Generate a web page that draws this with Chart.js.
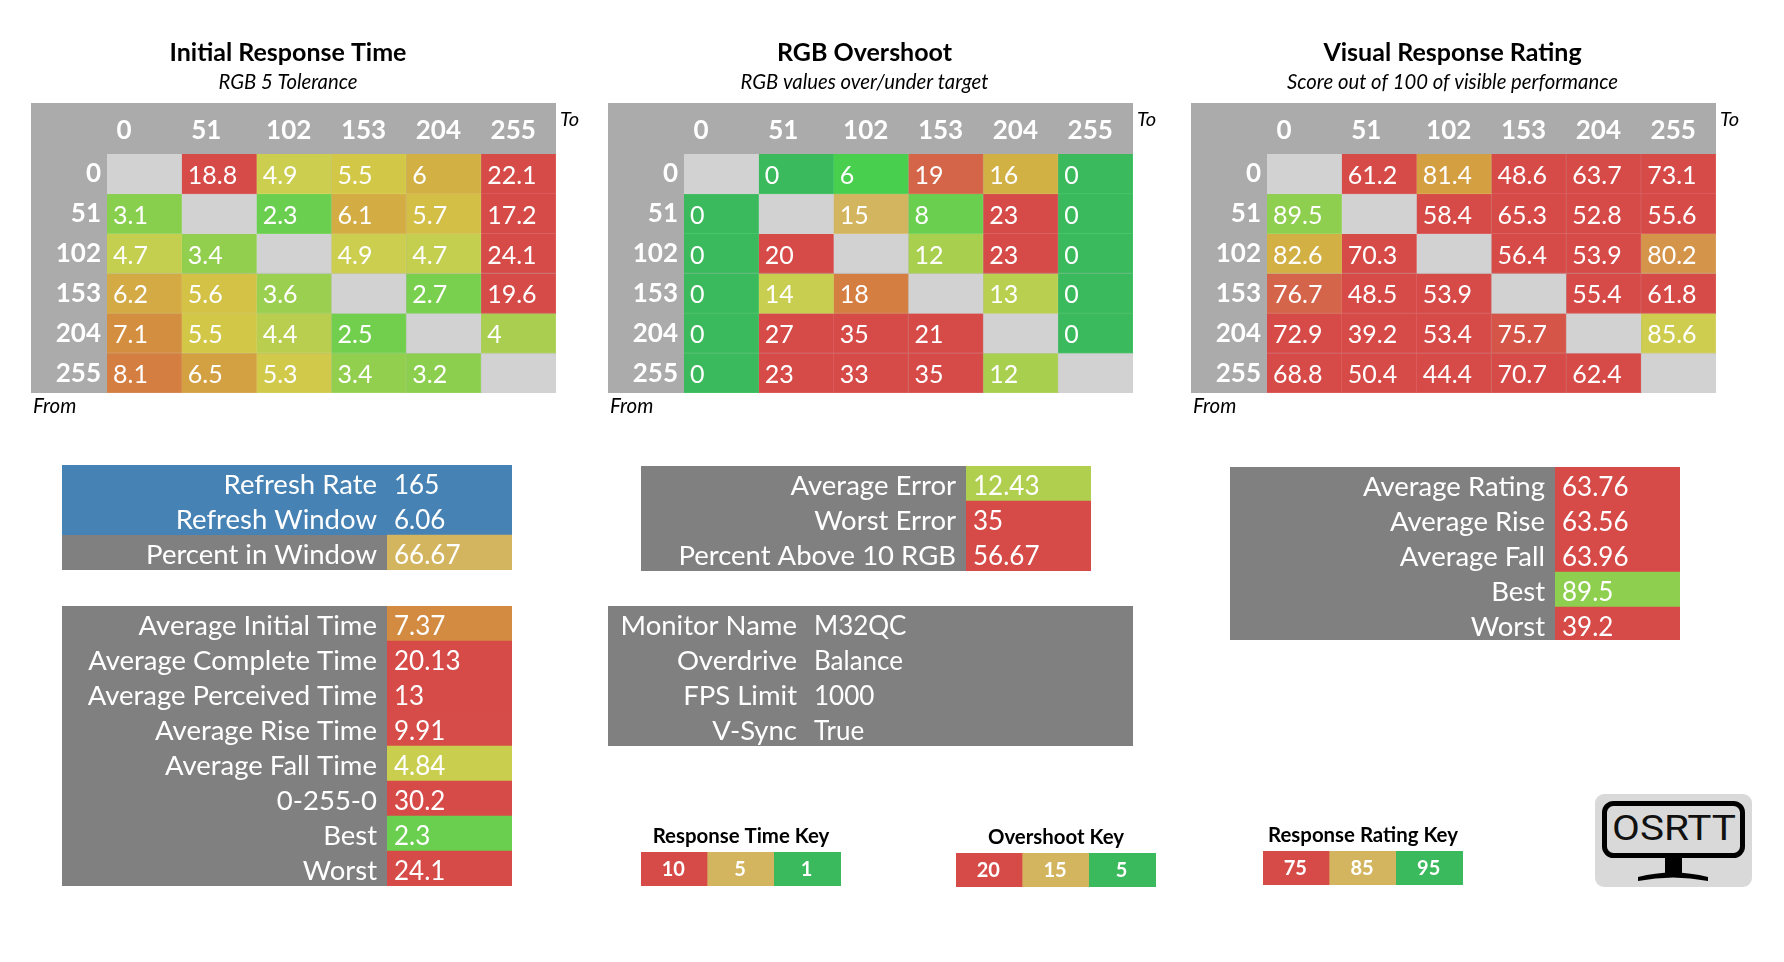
<!DOCTYPE html>
<html>
<head>
<meta charset="utf-8">
<title>OSRTT M32QC</title>
<script src="https://cdn.jsdelivr.net/npm/chart.js@4"></script>
<style>
  html, body { margin: 0; padding: 0; background: #fff; overflow: hidden; }
  canvas, svg { position: absolute; display: block; }
</style>
</head>
<body>
<svg style="left:1595px;top:794px" width="157" height="93" viewBox="0 0 157 93">
  <rect width="157" height="93" rx="9" fill="#d9d9d9"/>
  <rect x="9.5" y="9.5" width="138" height="52" rx="9" fill="none" stroke="#000" stroke-width="5"/>
  <text x="17" y="46" font-family="Roboto" font-size="35" textLength="124" lengthAdjust="spacingAndGlyphs" fill="#111">OSRTT</text>
  <rect x="70" y="63" width="17" height="20" fill="#000"/>
  <path d="M43 83 Q78 74 113 83 L113 87 Q78 80 43 87 Z" fill="#000"/>
</svg>
<script>
const grayLevels = ['0', '51', '102', '153', '204', '255'];

const responseTimes = [
  [null, 18.8, 4.9, 5.5, 6, 22.1],
  [3.1, null, 2.3, 6.1, 5.7, 17.2],
  [4.7, 3.4, null, 4.9, 4.7, 24.1],
  [6.2, 5.6, 3.6, null, 2.7, 19.6],
  [7.1, 5.5, 4.4, 2.5, null, 4],
  [8.1, 6.5, 5.3, 3.4, 3.2, null]
];
const overshootValues = [
  [null, 0, 6, 19, 16, 0],
  [0, null, 15, 8, 23, 0],
  [0, 20, null, 12, 23, 0],
  [0, 14, 18, null, 13, 0],
  [0, 27, 35, 21, null, 0],
  [0, 23, 33, 35, 12, null]
];
const ratingValues = [
  [null, 61.2, 81.4, 48.6, 63.7, 73.1],
  [89.5, null, 58.4, 65.3, 52.8, 55.6],
  [82.6, 70.3, null, 56.4, 53.9, 80.2],
  [76.7, 48.5, 53.9, null, 55.4, 61.8],
  [72.9, 39.2, 53.4, 75.7, null, 85.6],
  [68.8, 50.4, 44.4, 70.7, 62.4, null]
];

const refreshLabels = ['Refresh Rate', 'Refresh Window', 'Percent in Window'];
const refreshValues = [165, 6.06, 66.67];
const timeLabels = ['Average Initial Time', 'Average Complete Time', 'Average Perceived Time', 'Average Rise Time', 'Average Fall Time', '0-255-0', 'Best', 'Worst'];
const timeValues = [7.37, 20.13, 13, 9.91, 4.84, 30.2, 2.3, 24.1];
const errorLabels = ['Average Error', 'Worst Error', 'Percent Above 10 RGB'];
const errorValues = [12.43, 35, 56.67];
const monitorLabels = ['Monitor Name', 'Overdrive', 'FPS Limit', 'V-Sync'];
const monitorValues = ['M32QC', 'Balance', '1000', 'True'];
const ratingLabels = ['Average Rating', 'Average Rise', 'Average Fall', 'Best', 'Worst'];
const ratingStats = [63.76, 63.56, 63.96, 89.5, 39.2];

const timeKey = [10, 5, 1];
const overshootKey = [20, 15, 5];
const ratingKey = [75, 85, 95];

// colours
const RED = '#d64a48', TAN = '#d3b55f', GREEN = '#3bba5d';
const HEADER_GRAY = '#ababab', STAT_GRAY = '#808080', EMPTY_CELL = '#d2d2d2', BLUE = '#4682b4';

const timeStops = [[1, GREEN], [2.3, '#6acf4e'], [4.9, '#ccce4f'], [5.5, '#d3c747'], [6, '#d3b044'], [7.1, '#d38e40'], [8.1, '#d47e42'], [10, RED]];
const overshootStops = [[0, GREEN], [6, '#48cf4e'], [8, '#6acf4e'], [12, '#a9cf4f'], [14, '#c8ce4f'], [15, TAN], [16, '#d1b144'], [18, '#d47e42'], [19, '#d56548'], [20, RED]];
const ratingStops = [[75, RED], [76.7, '#d4644a'], [80.2, '#d4944a'], [81.4, '#d49f40'], [82.6, '#d2b044'], [85.6, '#cfcd50'], [89.5, '#8fcf4f'], [95, GREEN]];
const windowStops = [[50, RED], [66.67, TAN], [90, GREEN]];

function hexToRgb(hex) {
  return [1, 3, 5].map(i => parseInt(hex.slice(i, i + 2), 16));
}

function colorFor(value, stops) {
  if (value <= stops[0][0]) return stops[0][1];
  for (let i = 1; i < stops.length; i++) {
    if (value <= stops[i][0]) {
      const t = (value - stops[i - 1][0]) / (stops[i][0] - stops[i - 1][0]);
      const a = hexToRgb(stops[i - 1][1]), b = hexToRgb(stops[i][1]);
      return 'rgb(' + a.map((c, k) => Math.round(c + (b[k] - c) * t)).join(',') + ')';
    }
  }
  return stops[stops.length - 1][1];
}

function cellColor(value, stops) {
  return value === null ? EMPTY_CELL : colorFor(value, stops);
}

// faint lighter line between the cells, no line on the empty ones
function cellEdge(value, stops) {
  if (value === null) return EMPTY_CELL;
  return Chart.helpers.color(colorFor(value, stops)).lighten(0.1).rgbString();
}

Chart.defaults.font.family = 'Lato';
Chart.defaults.animation = false;
Chart.defaults.responsive = false;
Chart.defaults.layout.autoPadding = false;
Chart.defaults.plugins.legend.display = false;
Chart.defaults.plugins.tooltip.enabled = false;

// gray panels behind the bars and the words around the tables
const panelPlugin = {
  id: 'panel',
  beforeDraw(chart, args, opts) {
    const c = chart.ctx, area = chart.chartArea;
    if (opts.header) {
      c.fillStyle = opts.header;
      c.fillRect(chart.scales.y.left, chart.scales.x.top, area.right - chart.scales.y.left, area.bottom - chart.scales.x.top);
    }
    if (opts.bands) {
      const h = area.height / opts.bands.length;
      opts.bands.forEach((color, i) => {
        c.fillStyle = color;
        c.fillRect(0, area.top + i * h, chart.width, h);
      });
    }
  },
  afterDraw(chart, args, opts) {
    const c = chart.ctx;
    (opts.words || []).forEach(w => {
      c.font = w.font;
      c.fillStyle = '#000';
      c.textAlign = w.align || 'left';
      c.textBaseline = 'alphabetic';
      c.fillText(w.text, w.x(chart.chartArea), w.y(chart.chartArea));
    });
  }
};

// writes the value of each cell on top of its bar
const cellTextPlugin = {
  id: 'cellText',
  afterDatasetsDraw(chart, args, opts) {
    const c = chart.ctx;
    chart.data.datasets.forEach((ds, d) => {
      chart.getDatasetMeta(d).data.forEach((bar, i) => {
        const text = ds.texts[i];
        if (text === null || text === undefined) return;
        const horizontal = chart.options.indexAxis === 'y';
        c.font = opts.font;
        c.fillStyle = '#fff';
        c.textBaseline = 'middle';
        c.textAlign = opts.center ? 'center' : 'left';
        let x = horizontal ? bar.base + opts.indent : bar.x - bar.width / 2 + opts.indent;
        if (opts.center) x = bar.x + opts.indent;
        const y = horizontal ? bar.y : (bar.y + bar.base) / 2;
        c.fillText(String(text), x, y + (opts.shift || 0));
      });
    });
  }
};

Chart.register(panelPlugin, cellTextPlugin);

function place(left, top, width, height) {
  const canvas = document.createElement('canvas');
  canvas.width = width;
  canvas.height = height;
  canvas.style.left = left + 'px';
  canvas.style.top = top + 'px';
  document.body.appendChild(canvas);
  return canvas;
}

function heatmap(left, rows, stops, title, subtitle, titleCenter) {
  const top = 30;
  new Chart(place(left, top, 560, 392), {
    type: 'bar',
    data: {
      labels: grayLevels,
      datasets: rows.map(row => ({
        data: row.map(() => 1),
        texts: row,
        backgroundColor: row.map(v => cellColor(v, stops)),
        borderColor: row.map(v => cellEdge(v, stops)),
        borderWidth: { bottom: 1, right: 1 },
        borderSkipped: false,
        barPercentage: 1,
        categoryPercentage: 1
      }))
    },
    options: {
      layout: { padding: { top: 73, right: 35, bottom: 29 } },
      scales: {
        x: {
          position: 'top',
          stacked: true,
          grid: { display: false, drawTicks: false },
          border: { display: false },
          afterFit: scale => { scale.height = 51; },
          ticks: { color: '#fff', font: { size: 26, weight: 'bold' }, align: 'start', labelOffset: -28, padding: 8, maxRotation: 0, autoSkip: false }
        },
        y: {
          reverse: true,
          stacked: true,
          min: 0,
          max: 6,
          grid: { display: false, drawTicks: false },
          border: { display: false },
          afterFit: scale => { scale.width = 76; scale.paddingTop = 0; scale.paddingBottom = 0; },
          ticks: { stepSize: 1, color: '#fff', font: { size: 26, weight: 'bold' }, labelOffset: 20, padding: 6, autoSkip: false,
            callback: value => grayLevels[value] ?? '' }
        }
      },
      plugins: {
        panel: {
          header: HEADER_GRAY,
          words: [
            { text: title, font: 'bold 25px Lato', align: 'center', x: () => titleCenter - left, y: () => 61 - top },
            { text: subtitle, font: 'italic 20.3px Lato', align: 'center', x: () => titleCenter - left, y: () => 89 - top },
            { text: 'To', font: 'italic 20px Lato', x: a => a.right + 4, y: () => 126 - top },
            { text: 'From', font: 'italic 20.5px Lato', x: () => 2, y: a => a.bottom + 20 }
          ]
        },
        cellText: { font: '25px Lato', indent: 6, shift: 2 }
      }
    }
  });
}

function statTable(left, top, width, labelWidth, labels, values, colors, bands) {
  const canvas = place(left, top, width, labels.length * 35);
  new Chart(canvas, {
    type: 'bar',
    data: {
      labels: labels,
      datasets: [{
        data: labels.map(() => 1),
        texts: values,
        backgroundColor: colors,
        barPercentage: 1,
        categoryPercentage: 1
      }]
    },
    options: {
      indexAxis: 'y',
      scales: {
        x: { display: false, min: 0, max: 1 },
        y: {
          grid: { display: false, drawTicks: false },
          border: { display: false },
          afterFit: scale => { scale.width = labelWidth; scale.paddingTop = 0; scale.paddingBottom = 0; },
          ticks: { color: '#fff', font: { size: 27.5 }, padding: 10, labelOffset: 3, autoSkip: false }
        }
      },
      plugins: {
        panel: { bands: bands || labels.map(() => STAT_GRAY) },
        cellText: { font: '26px Lato', indent: 7, shift: 3 }
      }
    }
  });
  return canvas;
}

function keyTable(left, top, title, values) {
  new Chart(place(left, top - 30, 200, 64), {
    type: 'bar',
    data: {
      labels: values.map(String),
      datasets: [{
        data: values.map(() => 1),
        texts: values,
        backgroundColor: [RED, TAN, GREEN],
        barPercentage: 1,
        categoryPercentage: 1
      }]
    },
    options: {
      layout: { padding: { top: 30 } },
      scales: {
        x: { display: false },
        y: { display: false, min: 0, max: 1 }
      },
      plugins: {
        panel: {
          words: [{ text: title, font: 'bold 20.4px Lato', align: 'center', x: a => (a.left + a.right) / 2, y: a => a.top - 9 }]
        },
        cellText: { font: 'bold 20px Lato', center: true, indent: -1, shift: 1 }
      }
    }
  });
}

heatmap(31, responseTimes, timeStops, 'Initial Response Time', 'RGB 5 Tolerance', 288);
heatmap(608, overshootValues, overshootStops, 'RGB Overshoot', 'RGB values over/under target', 864.5);
heatmap(1191, ratingValues, ratingStops, 'Visual Response Rating', 'Score out of 100 of visible performance', 1452.5);

statTable(62, 465, 450, 325, refreshLabels, refreshValues,
  [BLUE, BLUE, colorFor(refreshValues[2], windowStops)], [BLUE, BLUE, STAT_GRAY]);
statTable(62, 606, 450, 325, timeLabels, timeValues, timeValues.map(v => colorFor(v, timeStops)));
statTable(641, 466, 450, 325, errorLabels, errorValues, errorValues.map(v => colorFor(v, overshootStops)));
statTable(608, 606, 525, 199, monitorLabels, monitorValues, monitorValues.map(() => STAT_GRAY));
// the last row is cut short in the original sheet
statTable(1230, 467, 450, 325, ratingLabels, ratingStats, ratingStats.map(v => colorFor(v, ratingStops))).style.clipPath = 'inset(0 0 2px 0)';

keyTable(641, 852, 'Response Time Key', timeKey);
keyTable(956, 853, 'Overshoot Key', overshootKey);
keyTable(1263, 851, 'Response Rating Key', ratingKey);
</script>
</body>
</html>
